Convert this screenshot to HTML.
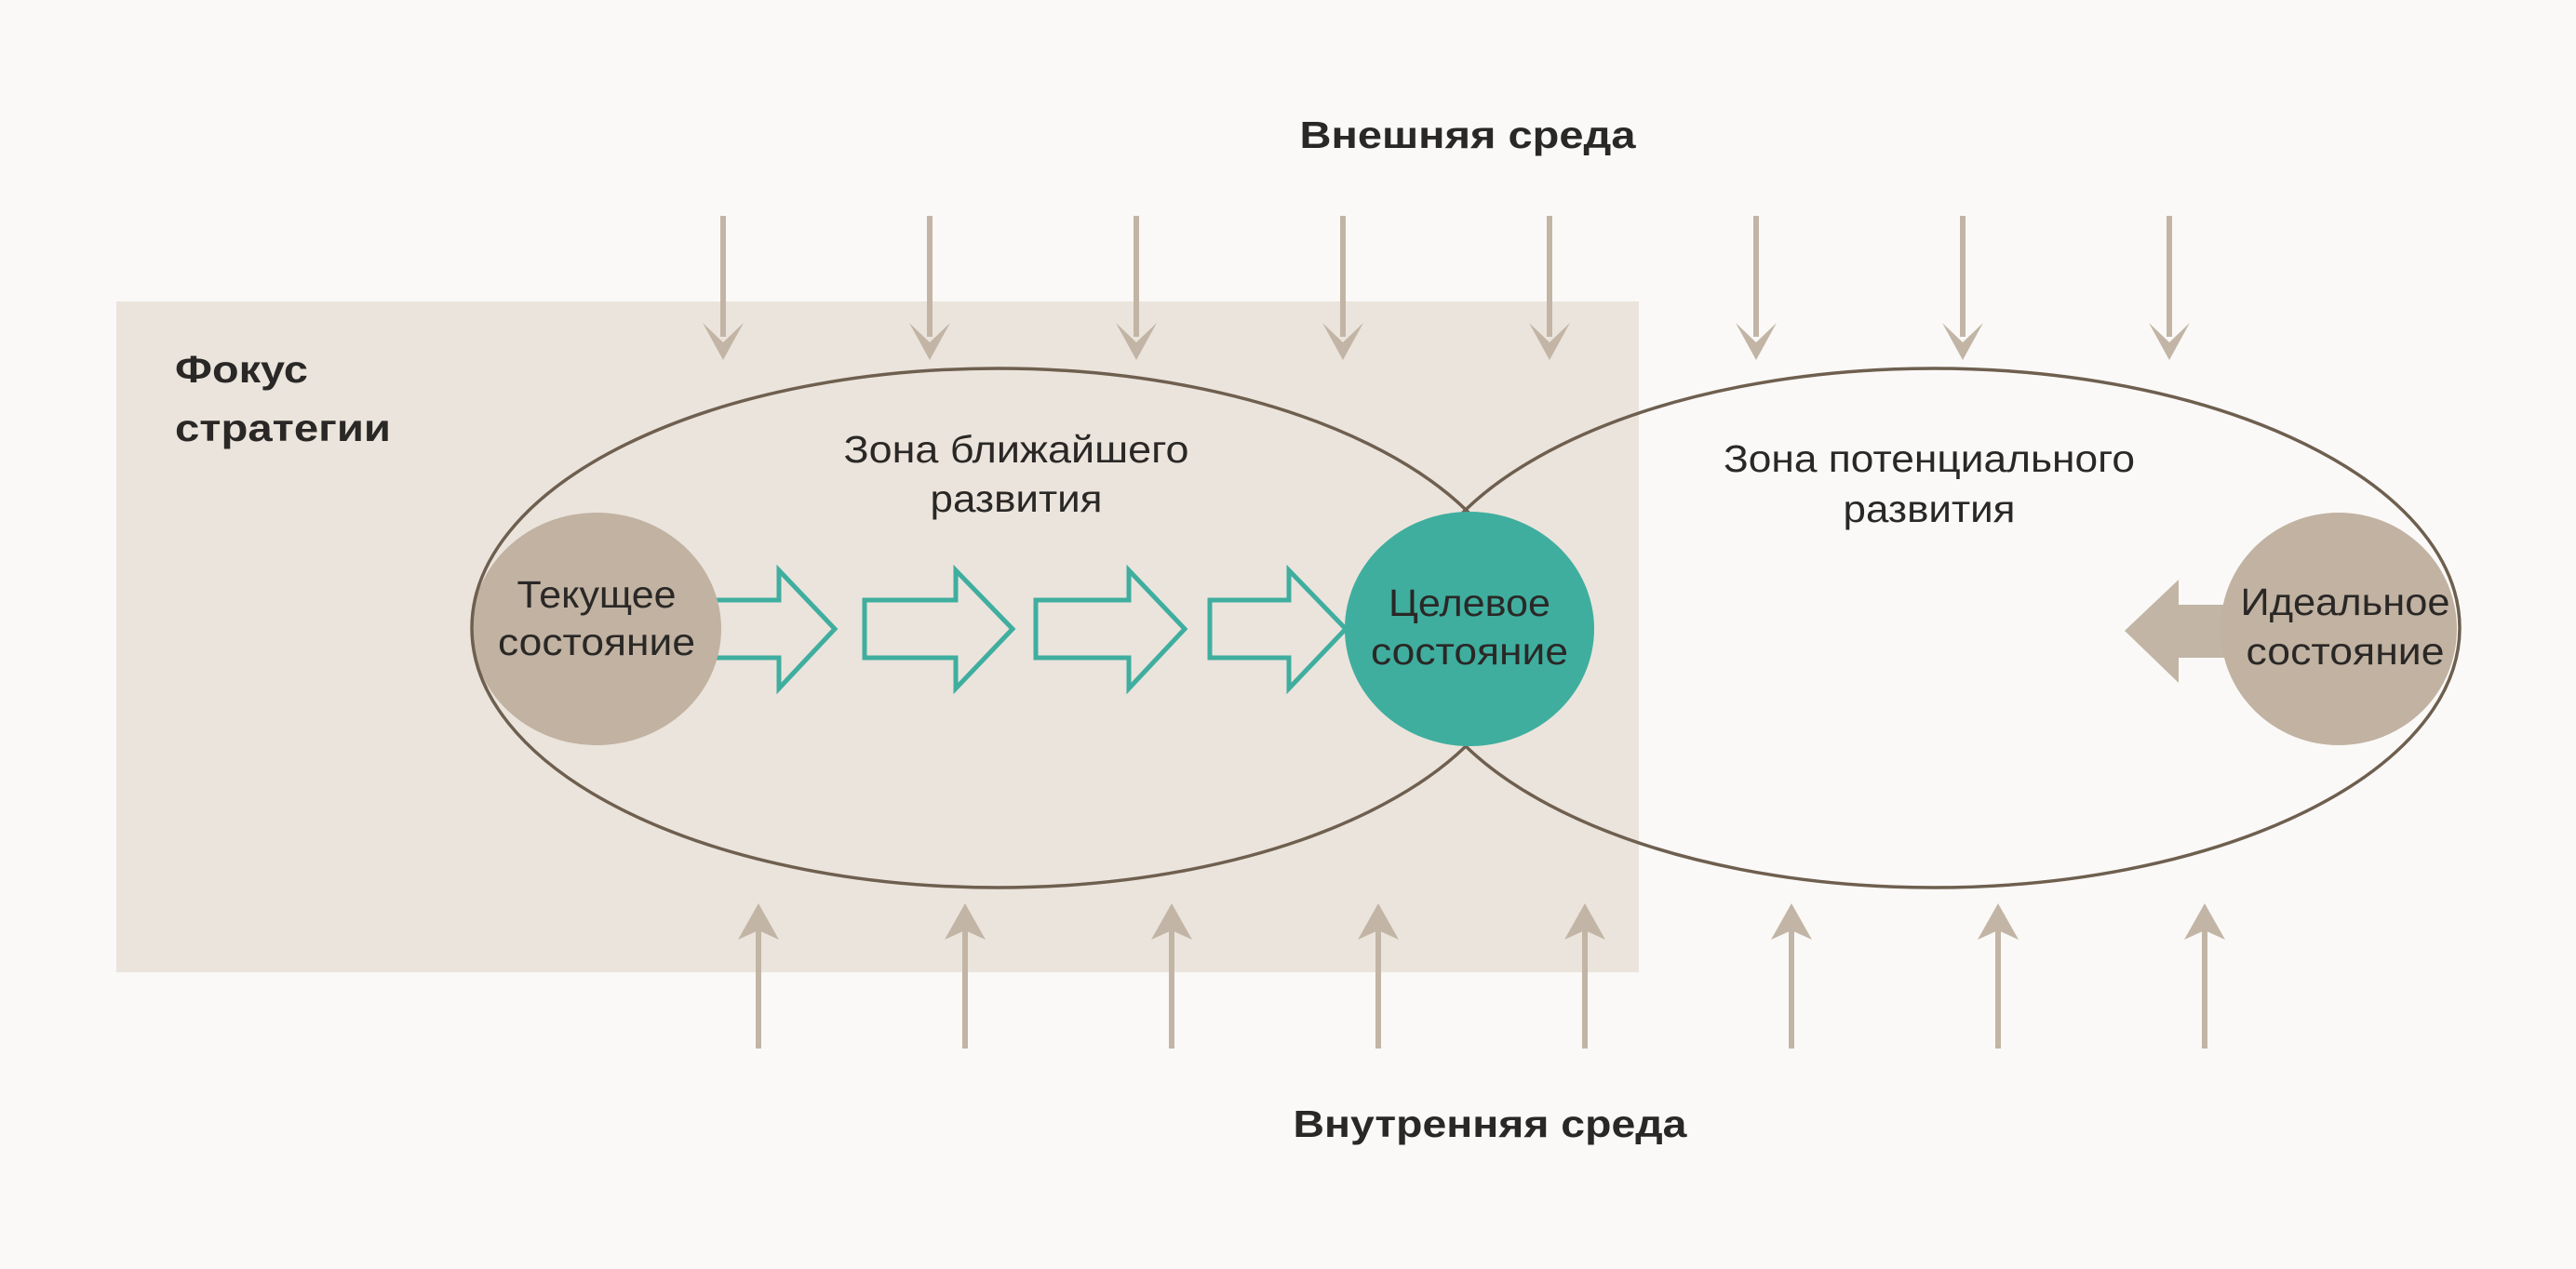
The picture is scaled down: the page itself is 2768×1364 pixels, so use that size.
<!DOCTYPE html>
<html><head><meta charset="utf-8"><style>
html,body{margin:0;padding:0;background:#faf9f7;}
svg{display:block;}
text{font-family:"Liberation Sans",sans-serif;fill:#2a2826;}
.b{font-weight:bold;}
</style></head><body>
<svg width="2768" height="1364" viewBox="0 0 2768 1364" xmlns="http://www.w3.org/2000/svg">
<rect x="0" y="0" width="2768" height="1364" fill="#faf9f7"/>
<rect x="125" y="324" width="1636" height="721" fill="#ebe4dc"/>

<g fill="#c2b5a5" stroke="none">
<g id="ta"><rect x="774" y="232" width="6" height="130"/><path d="M755,347 L777,368 L799,347 L777,387 Z"/></g>
<use href="#ta" x="222"/><use href="#ta" x="444"/><use href="#ta" x="666"/><use href="#ta" x="888"/>
<use href="#ta" x="1110"/><use href="#ta" x="1332"/><use href="#ta" x="1554"/>
<g id="ba"><rect x="812" y="990" width="6" height="137"/><path d="M793,1010 L815,1000 L837,1010 L815,971 Z"/></g>
<use href="#ba" x="222"/><use href="#ba" x="444"/><use href="#ba" x="666"/><use href="#ba" x="888"/>
<use href="#ba" x="1110"/><use href="#ba" x="1332"/><use href="#ba" x="1554"/>
</g>

<g fill="none" stroke="#3fae9f" stroke-width="5" stroke-linejoin="miter">
<path d="M700,645 L837,645 L837,613 L897,676 L837,740 L837,707 L700,707"/>
<path d="M929,645 L1027,645 L1027,613 L1088,676 L1027,740 L1027,707 L929,707 Z"/>
<path d="M1113,645 L1213,645 L1213,613 L1273,676 L1213,740 L1213,707 L1113,707 Z"/>
<path d="M1300,645 L1385,645 L1385,613 L1446,676 L1385,740 L1385,707 L1300,707 Z"/>
</g>

<path d="M2283,678 L2341,623 L2341,650 L2420,650 L2420,707 L2341,707 L2341,734 Z" fill="#c2b5a5"/>

<ellipse cx="641" cy="676" rx="134" ry="125" fill="#c1b2a2"/>
<ellipse cx="2513" cy="676" rx="127" ry="125" fill="#c1b2a2"/>

<g fill="none" stroke="#6e5f4f" stroke-width="3.5">
<ellipse cx="1072" cy="675" rx="565" ry="279"/>
<ellipse cx="2078" cy="675" rx="565" ry="279"/>
</g>

<ellipse cx="1579" cy="676" rx="134" ry="126" fill="#3fae9f"/>

<text class="b" x="1577" y="159" font-size="41" text-anchor="middle" textLength="361" lengthAdjust="spacingAndGlyphs">Внешняя среда</text>
<text class="b" x="1601" y="1222" font-size="41" text-anchor="middle" textLength="423" lengthAdjust="spacingAndGlyphs">Внутренняя среда</text>
<text class="b" x="188" y="411" font-size="41" textLength="143" lengthAdjust="spacingAndGlyphs">Фокус</text>
<text class="b" x="188" y="474" font-size="41" textLength="232" lengthAdjust="spacingAndGlyphs">стратегии</text>

<text x="1092" y="497" font-size="41" text-anchor="middle" textLength="371" lengthAdjust="spacingAndGlyphs">Зона ближайшего</text>
<text x="1092" y="550" font-size="41" text-anchor="middle" textLength="185" lengthAdjust="spacingAndGlyphs">развития</text>
<text x="2073" y="507" font-size="41" text-anchor="middle" textLength="442" lengthAdjust="spacingAndGlyphs">Зона потенциального</text>
<text x="2073" y="561" font-size="41" text-anchor="middle" textLength="185" lengthAdjust="spacingAndGlyphs">развития</text>

<text x="641" y="653" font-size="41" text-anchor="middle" textLength="171" lengthAdjust="spacingAndGlyphs">Текущее</text>
<text x="641" y="704" font-size="41" text-anchor="middle" textLength="212" lengthAdjust="spacingAndGlyphs">состояние</text>
<text x="1579" y="662" font-size="41" text-anchor="middle" textLength="174" lengthAdjust="spacingAndGlyphs">Целевое</text>
<text x="1579" y="714" font-size="41" text-anchor="middle" textLength="212" lengthAdjust="spacingAndGlyphs">состояние</text>
<text x="2520" y="661" font-size="41" text-anchor="middle" textLength="225" lengthAdjust="spacingAndGlyphs">Идеальное</text>
<text x="2520" y="714" font-size="41" text-anchor="middle" textLength="213" lengthAdjust="spacingAndGlyphs">состояние</text>
</svg>
</body></html>
